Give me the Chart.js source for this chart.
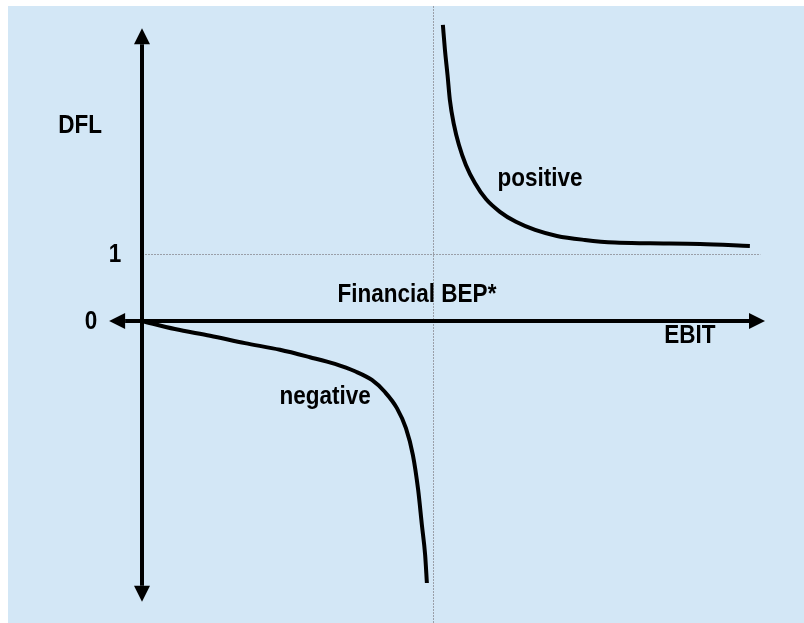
<!DOCTYPE html>
<html>
<head>
<meta charset="utf-8">
<script src="https://cdn.jsdelivr.net/npm/chart.js@4"></script>
<style>
  html, body { margin: 0; padding: 0; background: #ffffff; }
  canvas { display: block; }
</style>
</head>
<body>
<canvas id="chart" width="804" height="623"></canvas>
<script>

// EBIT values (interest = 100 at the financial break-even point)
const positiveEbit = [103.4, 104.1, 105.0, 105.8, 107.2, 108.9, 111.3, 114.4, 118.2, 123.0, 128.5, 135.1, 142.6, 152.2, 162.5, 174.6, 191.8, 208.9];
const positiveDfl  = [4.42, 4.05, 3.67, 3.30, 2.93, 2.63, 2.33, 2.06, 1.82, 1.63, 1.48, 1.36, 1.27, 1.21, 1.17, 1.16, 1.15, 1.12];

const negativeEbit = [0, 11.3, 23.4, 35.4, 47.4, 57.7, 66.3, 73.2, 79.0, 83.5, 87.6, 90.7, 93.1, 94.9, 96.2, 97.3, 97.9];
const negativeDfl  = [0, -0.12, -0.22, -0.33, -0.43, -0.54, -0.64, -0.75, -0.88, -1.06, -1.30, -1.60, -2.00, -2.52, -3.05, -3.49, -3.91];

const breakEven = 100;
const dflOne = 1;
const guideEnd = 212.5;
const axisEbit = [-11.3, 214.1];
const axisDfl = [-4.19, 4.37];

const labelTexts = ['DFL', '1', '0', 'Financial BEP*', 'EBIT', 'positive', 'negative'];
const labelEbit  = [-21.3, -9.3, -17.5, 94.5, 188.3, 136.8, 62.9];
const labelDfl   = [2.91, 0.99, -0.01, 0.38, -0.22, 2.12, -1.13];

function toPoints(xs, ys) {
    return xs.map((x, i) => ({x: x, y: ys[i]}));
}

const font = 'bold 25px "Liberation Sans", Arial, sans-serif';

const backdrop = {
    id: 'backdrop',
    beforeDraw(chart) {
        const ctx = chart.ctx;
        ctx.save();
        ctx.fillStyle = '#ffffff';
        ctx.fillRect(0, 0, chart.width, chart.height);
        ctx.fillStyle = '#d3e7f6';
        ctx.fillRect(8, 6, chart.width - 8, chart.height - 6);

        const xs = chart.scales.x, ys = chart.scales.y;
        // dotted guides
        ctx.strokeStyle = '#9a9fa8';
        ctx.lineWidth = 1;
        ctx.setLineDash([2, 1]);
        const bx = Math.round(xs.getPixelForValue(breakEven)) + 0.5;
        ctx.beginPath();
        ctx.moveTo(bx, 6);
        ctx.lineTo(bx, chart.height);
        ctx.stroke();
        const oy = Math.round(ys.getPixelForValue(dflOne)) + 0.5;
        ctx.beginPath();
        ctx.moveTo(xs.getPixelForValue(0), oy);
        ctx.lineTo(xs.getPixelForValue(guideEnd), oy);
        ctx.stroke();
        ctx.restore();
    },
    afterDatasetsDraw(chart) {
        const ctx = chart.ctx;
        const xs = chart.scales.x, ys = chart.scales.y;
        const x0 = xs.getPixelForValue(0), y0 = ys.getPixelForValue(0);
        const left = xs.getPixelForValue(axisEbit[0]), right = xs.getPixelForValue(axisEbit[1]);
        const top = ys.getPixelForValue(axisDfl[1]), bottom = ys.getPixelForValue(axisDfl[0]);
        ctx.save();
        ctx.strokeStyle = '#000';
        ctx.fillStyle = '#000';
        ctx.lineWidth = 4;
        const head = 16, half = 8;
        ctx.beginPath();
        ctx.moveTo(left + head, y0); ctx.lineTo(right - head, y0);
        ctx.moveTo(x0, top + head); ctx.lineTo(x0, bottom - head);
        ctx.stroke();
        ctx.beginPath();
        ctx.moveTo(left, y0); ctx.lineTo(left + head, y0 - half); ctx.lineTo(left + head, y0 + half); ctx.closePath();
        ctx.moveTo(right, y0); ctx.lineTo(right - head, y0 - half); ctx.lineTo(right - head, y0 + half); ctx.closePath();
        ctx.moveTo(x0, top); ctx.lineTo(x0 - half, top + head); ctx.lineTo(x0 + half, top + head); ctx.closePath();
        ctx.moveTo(x0, bottom); ctx.lineTo(x0 - half, bottom - head); ctx.lineTo(x0 + half, bottom - head); ctx.closePath();
        ctx.fill();

        // labels, squeezed a little to look like the narrow face of the original
        ctx.font = font;
        ctx.textAlign = 'center';
        ctx.textBaseline = 'middle';
        labelTexts.forEach((t, i) => {
            ctx.save();
            ctx.translate(xs.getPixelForValue(labelEbit[i]), ys.getPixelForValue(labelDfl[i]));
            ctx.scale(0.9, 1);
            ctx.fillText(t, 0, 0);
            ctx.restore();
        });
        ctx.restore();
    }
};

new Chart(document.getElementById('chart'), {
    type: 'scatter',
    data: {
        datasets: [
            {
                label: 'positive',
                data: toPoints(positiveEbit, positiveDfl),
                showLine: true,
                borderColor: '#000',
                borderWidth: 4,
                pointRadius: 0,
                cubicInterpolationMode: 'monotone'
            },
            {
                label: 'negative',
                data: toPoints(negativeEbit, negativeDfl),
                showLine: true,
                borderColor: '#000',
                borderWidth: 4,
                pointRadius: 0,
                cubicInterpolationMode: 'monotone'
            }
        ]
    },
    options: {
        responsive: false,
        devicePixelRatio: 1,
        animation: false,
        layout: { padding: 0 },
        plugins: {
            legend: { display: false },
            tooltip: { enabled: false },
            title: { display: false }
        },
        scales: {
            x: { type: 'linear', display: false, min: -48.8, max: 227.5 },
            y: { type: 'linear', display: false, min: -4.507, max: 4.791 }
        }
    },
    plugins: [backdrop]
});
</script>
</body>
</html>
